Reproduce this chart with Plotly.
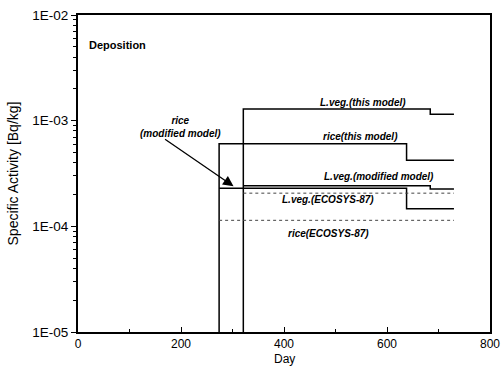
import numpy as np
import plotly.graph_objects as go

# ---- data ----
day_rice_start = 274
day_lveg_start = 321
day_rice_drop = 638
day_lveg_drop = 684
day_end = 730
floor_val = 1e-5

lveg_this = [1.29e-3, 1.15e-3]      # before / after drop
rice_this = [6.05e-4, 4.22e-4]
lveg_mod = [2.42e-4, 2.25e-4]
rice_mod = [2.29e-4, 1.47e-4]
lveg_ecosys = [2.06e-4]
rice_ecosys = [1.14e-4]

y_tickvals = [1e-5, 1e-4, 1e-3, 1e-2]
y_ticktext = ["1E-05", "1E-04", "1E-03", "1E-02"]
x_tickvals = [0, 200, 400, 600, 800]
x_ticktext = ["0", "200", "400", "600", "800"]


def step(start, drop, end, vals, from_floor=True):
    xs, ys = [], []
    if from_floor:
        xs += [start]
        ys += [floor_val]
    xs += [start]
    ys += [vals[0]]
    if len(vals) > 1:
        xs += [drop, drop]
        ys += [vals[0], vals[1]]
        xs += [end]
        ys += [vals[1]]
    else:
        xs += [end]
        ys += [vals[0]]
    return xs, ys


fig = go.Figure()
solid = dict(color="black", width=1.5)
dotted = dict(color="#444444", width=1, dash="dot")

for (start, drop, vals, floor) in [
    (day_lveg_start, day_lveg_drop, lveg_this, True),
    (day_rice_start, day_rice_drop, rice_this, True),
    (day_lveg_start, day_lveg_drop, lveg_mod, False),
    (day_rice_start, day_rice_drop, rice_mod, False),
]:
    xs, ys = step(start, drop, day_end, vals, floor)
    fig.add_trace(go.Scatter(x=xs, y=ys, mode="lines", line=solid, showlegend=False))

for (start, vals) in [(day_lveg_start, lveg_ecosys), (day_rice_start, rice_ecosys)]:
    xs, ys = step(start, None, day_end, vals, False)
    fig.add_trace(go.Scatter(x=xs, y=ys, mode="lines", line=dotted, showlegend=False))

FAM = "Liberation Sans, Arial, sans-serif"
lab_font = dict(family=FAM, size=10, color="black", style="italic", weight="bold")

annos = [
    ("L.veg.(this model)", 554, -2.825),
    ("rice(this model)", 548, -3.153),
    ("L.veg.(modified model)", 584, -3.528),
    ("L.veg.(ECOSYS-87)", 486, -3.743),
    ("rice(ECOSYS-87)", 486, -4.071),
    ("rice<br>(modified model)", 199, -3.06),
]
for txt, x, y in annos:
    fig.add_annotation(x=x, y=y, text=txt, showarrow=False, font=lab_font,
                       xanchor="center", yanchor="middle")

# arrow pointing at rice (modified model)
fig.add_annotation(x=day_rice_start + 28, y=np.log10(rice_mod[0]) + 0.02, text="",
                   showarrow=True, arrowhead=2, arrowsize=1.6, arrowwidth=1.3,
                   arrowcolor="black", ax=-70, ay=-48)

fig.add_annotation(x=0.022, y=0.905, xref="paper", yref="paper", text="Deposition",
                   showarrow=False, xanchor="left", yanchor="middle",
                   font=dict(family=FAM, size=11, color="black", weight="bold"))

# x-axis title
fig.add_annotation(x=0.5, y=-0.110, xref="paper", yref="paper", text="Day",
                   showarrow=False, xanchor="center", yanchor="bottom",
                   borderpad=0,
                   font=dict(family=FAM, size=12, color="black"))

axis_font = dict(family=FAM, size=12, color="black")

fig.update_layout(
    width=504, height=368,
    margin=dict(l=78, r=14, t=15, b=36),
    paper_bgcolor="white", plot_bgcolor="white",
    xaxis=dict(range=[0, 800], tickvals=x_tickvals, ticktext=x_ticktext,
               automargin=False,
               showgrid=False, zeroline=False, showline=True, linecolor="black",
               linewidth=1.8, mirror=True, ticks="inside", ticklen=5, tickwidth=1.2,
               tickcolor="black", tickfont=axis_font,
               minor=dict(tickvals=[100, 300, 500, 700], ticks="inside", ticklen=3,
                          tickcolor="black")),
    yaxis=dict(type="log", range=[-5, -2], tickvals=y_tickvals, ticktext=y_ticktext,
               automargin=False,
               showgrid=False, zeroline=False, showline=True, linecolor="black",
               linewidth=2.2, mirror=True, ticks="outside", ticklen=5, tickwidth=1.2,
               tickcolor="black", tickfont=dict(family=FAM, size=13.5, color="black"),
               minor=dict(tickvals=[m * 10.0 ** e for e in (-5, -4, -3) for m in range(2, 10)],
                          ticks="outside", ticklen=3, tickcolor="black"),
               title=dict(text="Specific Activity [Bq/kg]", font=dict(family=FAM, size=14, color="black"), standoff=10)),
)

fig.write_html("out.html")
